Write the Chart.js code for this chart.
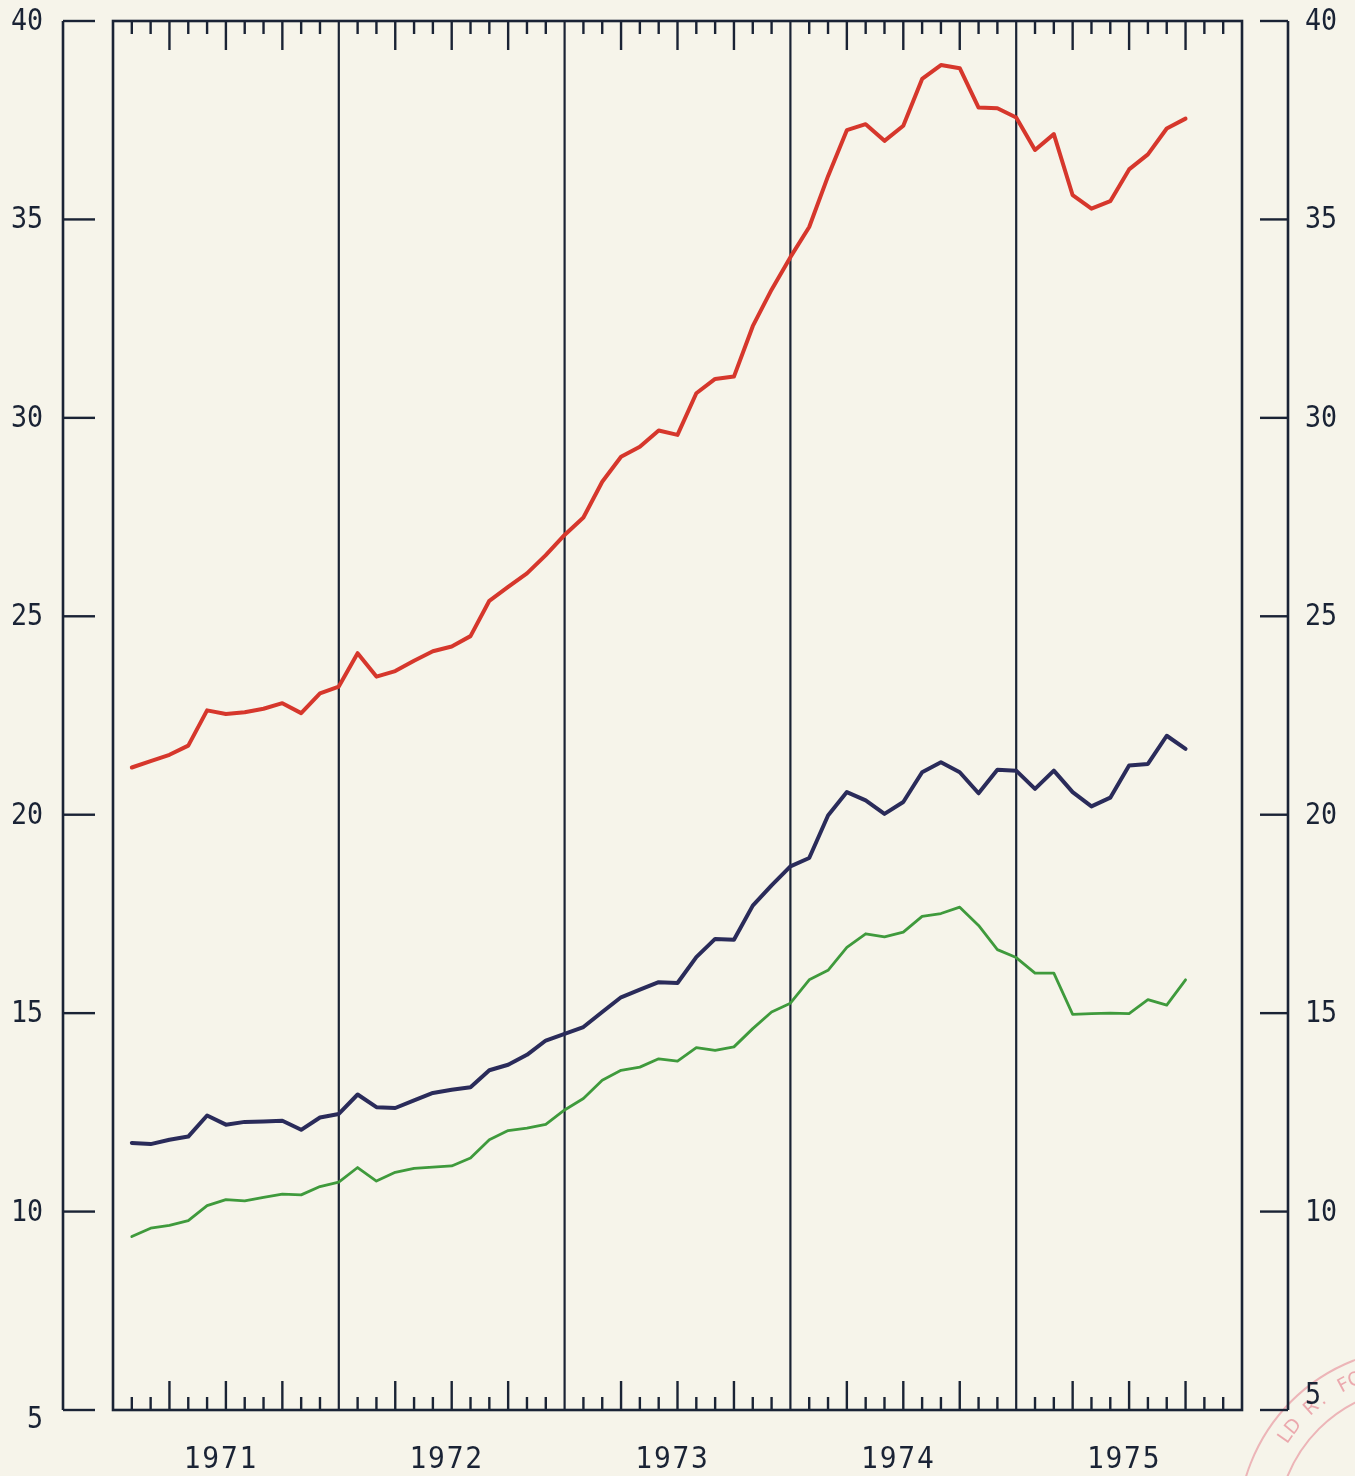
<!DOCTYPE html>
<html>
<head>
<meta charset="utf-8">
<script src="https://cdn.jsdelivr.net/npm/chart.js@4/dist/chart.umd.min.js"></script>
<style>
html,body{margin:0;padding:0;background:#f6f4ea;}
canvas{display:block;}
</style>
</head>
<body>
<canvas id="c" width="1355" height="1476"></canvas>
<script>
// Monthly observations, Jan 1971 .. Sep 1975 (plotted at month end)
const months = [
 '1971-01','1971-02','1971-03','1971-04','1971-05','1971-06','1971-07','1971-08','1971-09','1971-10','1971-11','1971-12',
 '1972-01','1972-02','1972-03','1972-04','1972-05','1972-06','1972-07','1972-08','1972-09','1972-10','1972-11','1972-12',
 '1973-01','1973-02','1973-03','1973-04','1973-05','1973-06','1973-07','1973-08','1973-09','1973-10','1973-11','1973-12',
 '1974-01','1974-02','1974-03','1974-04','1974-05','1974-06','1974-07','1974-08','1974-09','1974-10','1974-11','1974-12',
 '1975-01','1975-02','1975-03','1975-04','1975-05','1975-06','1975-07','1975-08','1975-09'
];

const seriesRed = [
 21.19,21.35,21.51,21.74,22.63,22.54,22.58,22.67,22.81,22.56,23.06,23.23,
 24.07,23.48,23.62,23.88,24.12,24.24,24.50,25.39,25.74,26.08,26.54,27.05,
 27.49,28.39,29.02,29.27,29.68,29.57,30.62,30.98,31.04,32.31,33.23,34.05,
 34.81,36.09,37.25,37.40,36.98,37.36,38.54,38.89,38.81,37.82,37.80,37.57,
 36.75,37.15,35.61,35.27,35.46,36.26,36.64,37.29,37.54
];

const seriesBlue = [
 11.73,11.70,11.81,11.89,12.42,12.19,12.26,12.27,12.29,12.06,12.37,12.46,
 12.95,12.63,12.61,12.80,12.99,13.07,13.13,13.56,13.70,13.95,14.31,14.48,
 14.65,15.03,15.40,15.59,15.78,15.76,16.41,16.87,16.85,17.71,18.22,18.70,
 18.91,19.98,20.57,20.36,20.02,20.32,21.07,21.32,21.07,20.54,21.13,21.11,
 20.65,21.11,20.57,20.21,20.43,21.24,21.28,21.99,21.66
];

const seriesGreen = [
 9.37,9.58,9.65,9.77,10.15,10.30,10.27,10.36,10.44,10.42,10.63,10.74,
 11.11,10.77,10.99,11.09,11.12,11.15,11.35,11.81,12.04,12.10,12.20,12.56,
 12.85,13.31,13.56,13.64,13.85,13.79,14.13,14.06,14.15,14.61,15.03,15.25,
 15.84,16.08,16.66,17.00,16.92,17.04,17.44,17.51,17.67,17.21,16.60,16.40,
 16.01,16.01,14.97,14.99,15.00,14.99,15.34,15.20,15.84
];

const yTicks = [5,10,15,20,25,30,35,40];
const yearLabels = ['1971','1972','1973','1974','1975'];
const stampText = 'LD R. FOR';

const X_MIN = 0, X_MAX = 60;   // months from Jan 1971 to Dec 1975
const Y_MIN = 5, Y_MAX = 40;

function monthPos(label){
  const p = label.split('-').map(Number);
  return (p[0] - 1971) * 12 + p[1];
}
function points(values){
  return values.map((v, i) => ({x: monthPos(months[i]), y: v}));
}

const INK = '#1a2335';
const BG = '#f6f4ea';
const FONT = '31px "DejaVu Sans Mono", monospace';

function drawText(ctx, txt, x, y, align, sx){
  ctx.save();
  ctx.font = FONT;
  ctx.textBaseline = 'middle';
  ctx.textAlign = align;
  ctx.translate(x, y);
  ctx.scale(sx, 1);
  ctx.fillText(txt, 0, 0);
  ctx.restore();
}

const framePlugin = {
  id: 'frame',
  beforeDraw(chart){
    const ctx = chart.ctx;
    ctx.save();
    ctx.fillStyle = BG;
    ctx.fillRect(0, 0, chart.width, chart.height);
    // faint archive stamp in the lower right corner
    const cx = 1420, cy = 1530;
    ctx.strokeStyle = 'rgba(228,118,134,0.5)';
    ctx.lineWidth = 2;
    ctx.beginPath(); ctx.arc(cx, cy, 182, Math.PI * 1.0, Math.PI * 1.5); ctx.stroke();
    ctx.beginPath(); ctx.arc(cx, cy, 143, Math.PI * 1.0, Math.PI * 1.5); ctx.stroke();
    ctx.fillStyle = 'rgba(228,118,134,0.6)';
    ctx.font = '19px "DejaVu Sans", sans-serif';
    ctx.textAlign = 'center';
    ctx.textBaseline = 'middle';
    stampText.split('').forEach((ch, i) => {
      const a = (-145.4 + i * 4.6) * Math.PI / 180;
      ctx.save();
      ctx.translate(cx + 163 * Math.cos(a), cy + 163 * Math.sin(a));
      ctx.rotate(a + Math.PI / 2);
      ctx.fillText(ch, 0, 0);
      ctx.restore();
    });
    ctx.restore();
  },
  beforeDatasetsDraw(chart){
    const ctx = chart.ctx, xs = chart.scales.x, ys = chart.scales.y;
    const L = xs.getPixelForValue(X_MIN), R = xs.getPixelForValue(X_MAX);
    const T = ys.getPixelForValue(Y_MAX), B = ys.getPixelForValue(Y_MIN);
    ctx.save();
    ctx.strokeStyle = INK;
    ctx.lineCap = 'butt';
    // frame
    ctx.lineWidth = 2.6;
    ctx.strokeRect(L, T, R - L, B - T);
    // year separators
    ctx.lineWidth = 2.2;
    for (let m = 12; m < X_MAX; m += 12){
      const x = xs.getPixelForValue(m);
      ctx.beginPath(); ctx.moveTo(x, T); ctx.lineTo(x, B); ctx.stroke();
    }
    // monthly ticks top and bottom
    ctx.lineWidth = 2.4;
    for (let m = 1; m < X_MAX; m++){
      if (m % 12 === 0) continue;
      const x = xs.getPixelForValue(m);
      const len = (m % 3 === 0) ? 29 : 13;
      ctx.beginPath(); ctx.moveTo(x, T); ctx.lineTo(x, T + len); ctx.stroke();
      ctx.beginPath(); ctx.moveTo(x, B); ctx.lineTo(x, B - len); ctx.stroke();
    }
    // left and right value axes
    const AL = L - 50, AR = R + 46;
    ctx.lineWidth = 2.6;
    ctx.beginPath(); ctx.moveTo(AL, T); ctx.lineTo(AL, B); ctx.stroke();
    ctx.beginPath(); ctx.moveTo(AR, T); ctx.lineTo(AR, B); ctx.stroke();
    ctx.lineWidth = 2.4;
    ctx.fillStyle = INK;
    yTicks.forEach(v => {
      const y = ys.getPixelForValue(v);
      ctx.beginPath(); ctx.moveTo(AL, y); ctx.lineTo(AL + 32, y); ctx.stroke();
      ctx.beginPath(); ctx.moveTo(AR - 28, y); ctx.lineTo(AR, y); ctx.stroke();
      const dl = (v === Y_MIN) ? 10 : 1;
      const dr = (v === Y_MIN) ? -14 : 1;
      drawText(ctx, String(v), AL - 20, y + dl, 'right', 0.86);
      drawText(ctx, String(v), AR + 17, y + dr, 'left', 0.86);
    });
    // year labels
    yearLabels.forEach((t, i) => {
      const x = xs.getPixelForValue(i * 12 + 6) - 5;
      ctx.save();
      ctx.font = FONT;
      ctx.textAlign = 'center';
      ctx.textBaseline = 'middle';
      ctx.letterSpacing = '2px';
      ctx.translate(x, B + 50);
      ctx.scale(0.9, 1);
      ctx.fillText(t, 0, 0);
      ctx.restore();
    });
    ctx.restore();
  }
};

const common = {pointRadius: 0, tension: 0, fill: false, borderJoinStyle: 'round', borderCapStyle: 'round'};

new Chart(document.getElementById('c'), {
  type: 'line',
  data: {
    datasets: [
      Object.assign({label: 'red', data: points(seriesRed), borderColor: '#d6372c', borderWidth: 4}, common),
      Object.assign({label: 'blue', data: points(seriesBlue), borderColor: '#2a2b5a', borderWidth: 4}, common),
      Object.assign({label: 'green', data: points(seriesGreen), borderColor: '#3f9a3c', borderWidth: 2.8}, common)
    ]
  },
  options: {
    responsive: false,
    animation: false,
    layout: {padding: {left: 113, right: 113, top: 21, bottom: 66}},
    scales: {
      x: {type: 'linear', min: X_MIN, max: X_MAX, display: false},
      y: {type: 'linear', min: Y_MIN, max: Y_MAX, display: false}
    },
    plugins: {legend: {display: false}, tooltip: {enabled: false}}
  },
  plugins: [framePlugin]
});
</script>
</body>
</html>
